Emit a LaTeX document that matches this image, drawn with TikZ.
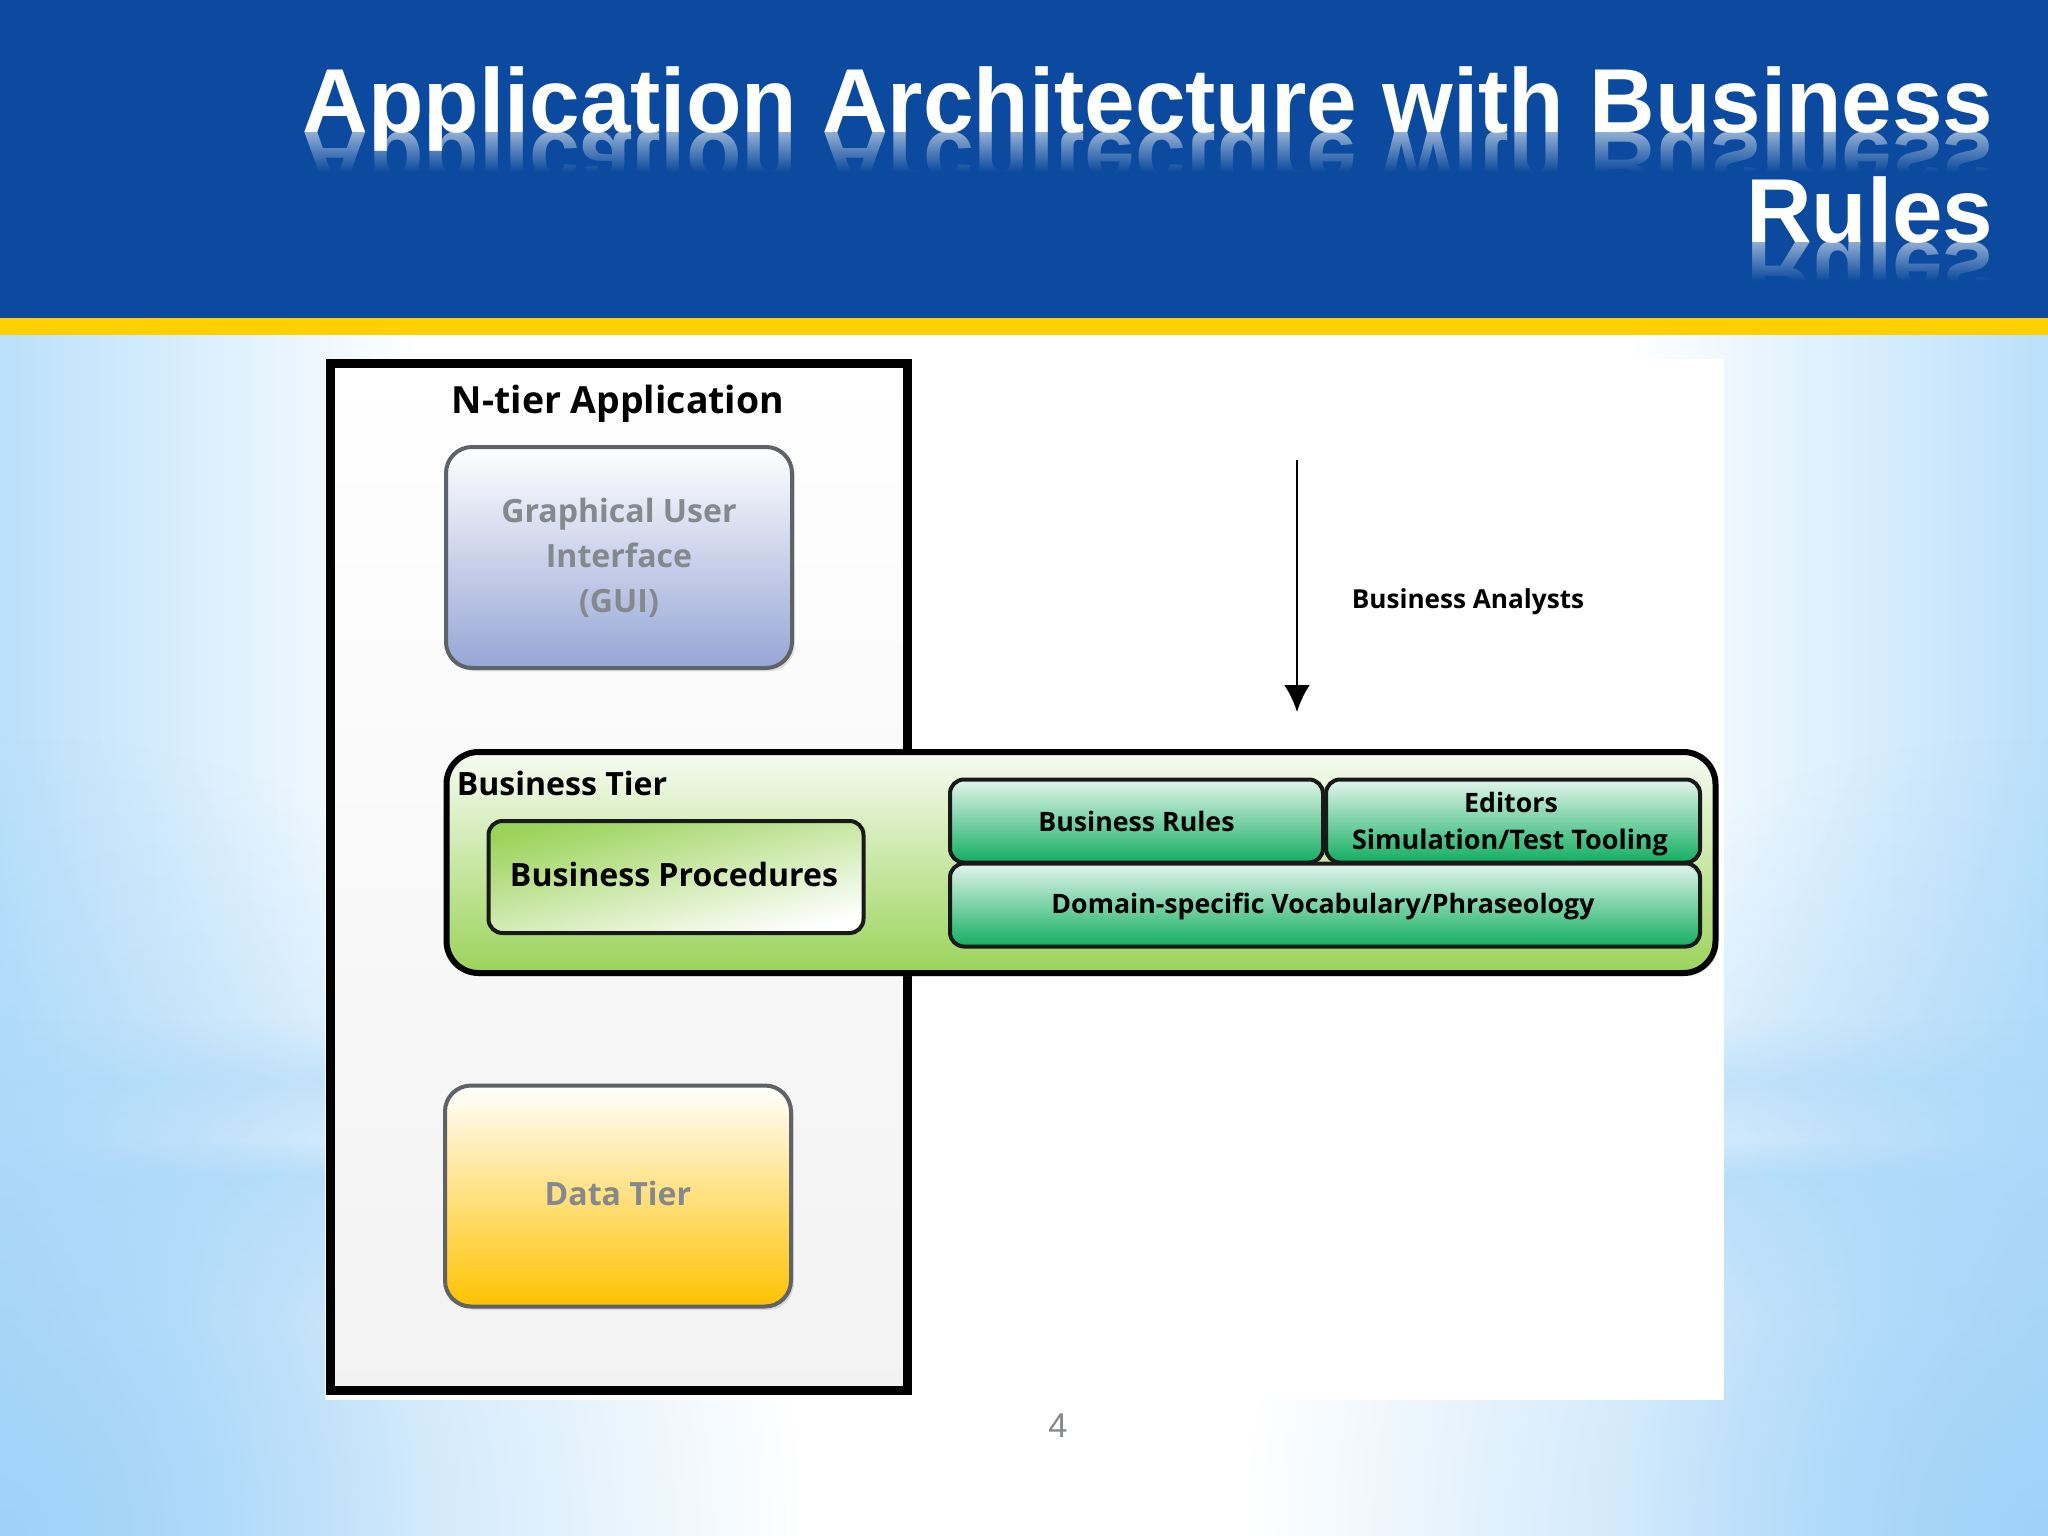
\documentclass[tikz,border=0pt]{standalone}
\usepackage{fontspec}
\setmainfont{Liberation Sans}
\newfontfamily\labelfont{Open Sans}
\usetikzlibrary{arrows.meta,fadings,shadows}
\def\px{0.0125cm}
\definecolor{bannerblue}{HTML}{0B4A9E}
\definecolor{stripeyellow}{HTML}{FFD000}
\definecolor{skyblue}{HTML}{BAE0FB}
\definecolor{deepsky}{HTML}{A0D2F8}
\definecolor{greytext}{HTML}{85888C}
\definecolor{boxedge}{HTML}{5F6266}
\definecolor{guiblue}{HTML}{96A6D6}
\definecolor{datagold}{HTML}{FFC200}
\definecolor{tiergreen}{HTML}{9BD35A}
\definecolor{rulegreen}{HTML}{12AE60}
\tikzfading[name=glow, inner color=transparent!0, outer color=transparent!100]
\tikzset{
  softshadow/.style={drop shadow={shadow xshift=1pt,shadow yshift=-1.2pt,opacity=.22}},
  tierbox/.style={draw=boxedge,line width=4*\px,rounded corners=26*\px,inner sep=0pt,
    minimum width=346*\px,minimum height=221*\px,align=center,text=greytext,
    softshadow,font=\labelfont\bfseries\fontsize{11.4}{16}\selectfont},
  rulebox/.style={draw=black!90,line width=4*\px,rounded corners=14*\px,inner sep=0pt,
    top color=rulegreen!12,bottom color=rulegreen,align=center,text=black,
    font=\labelfont\bfseries\fontsize{9.5}{13.4}\selectfont},
  titletext/.style={anchor=base east,inner sep=0pt,text=white,
    font=\bfseries\fontsize{32.3}{36}\selectfont},
  mirrored/.style={titletext,yscale=-1,transform shape,opacity=.55},
  labeltext/.style={inner sep=0pt,anchor=base,text=black,
    font=\labelfont\bfseries\fontsize{11.4}{13}\selectfont},
  ruletext/.style={labeltext,font=\labelfont\bfseries\fontsize{9.5}{13}\selectfont}
}
\begin{document}
\begin{tikzpicture}[x=\px,y=-\px]
\useasboundingbox (0,0) rectangle (2048,1536);
% slide background
\fill [white] (0,0) rectangle (2048,1536);
\shade [left color=skyblue,right color=white] (0,335) rectangle (420,1536);
\shade [left color=white,right color=skyblue] (1628,335) rectangle (2048,1536);
\fill [skyblue,opacity=.55,path fading=north] (0,1020) rectangle (2048,1082);
\fill [skyblue,opacity=.55,path fading=south] (0,1082) rectangle (2048,1140);
\fill [skyblue,opacity=.7,path fading=north] (0,1140) rectangle (2048,1176);
\fill [skyblue,opacity=.7,path fading=south] (0,1176) rectangle (2048,1320);
\fill [deepsky,path fading=glow] (-800,736) rectangle (800,2336);
\fill [deepsky,path fading=glow] (1248,736) rectangle (2848,2336);
% banner
\fill [bannerblue] (0,0) rectangle (2048,318);
\fill [stripeyellow] (0,318) rectangle (2048,335);
\node [mirrored] (titleonemirror) at (1994,133) {Application Architecture with Business};
\fill [bannerblue,path fading=north] (280,133) rectangle (2048,172);
\fill [bannerblue] (280,172) rectangle (2048,240);
\node [mirrored] (titletwomirror) at (1994,242) {Rules};
\fill [bannerblue,path fading=north] (1700,242) rectangle (2048,281);
\fill [bannerblue] (1700,281) rectangle (2048,317);
\node [titletext] (titleone) at (1994,133) {Application Architecture with Business};
\node [titletext] (titletwo) at (1994,242) {Rules};
% picture sheet
\fill [white] (325,359) rectangle (1724,1400);
\node [draw=black,line width=9*\px,inner sep=0pt,minimum width=577*\px,minimum height=1027*\px,
  top color=white,bottom color=black!5,softshadow] (frame) at (618.5,876.5) {};
\node [labeltext,font=\labelfont\bfseries\fontsize{13.3}{15}\selectfont] (ntier) at (618,413) {N-tier Application};
\node [tierbox,top color=white,bottom color=guiblue] (gui) at (619,557.5)
  {Graphical User\\Interface\\(GUI)};
\node [tierbox,top color=white,bottom color=datagold] (data) at (618,1196) {};
\node [labeltext,text=greytext] (datalabel) at (618,1205) {Data Tier};
% business tier
\node [draw=black,line width=6*\px,rounded corners=32*\px,inner sep=0pt,minimum width=1269*\px,
  minimum height=221*\px,top color=tiergreen!8,bottom color=tiergreen,softshadow] (busi) at (1081,862.5) {};
\node [labeltext] (busilabel) at (562,795) {Business Tier};
\node [draw=black!90,line width=4*\px,rounded corners=14*\px,inner sep=0pt,minimum width=375*\px,
  minimum height=112*\px,shading=axis,top color=tiergreen,middle color=tiergreen!8,bottom color=white,
  shading angle=14] (proc) at (676,877) {};
\node [labeltext] (proclabel) at (674,886) {Business Procedures};
\node [rulebox,minimum width=373*\px,minimum height=83*\px] (rules) at (1136.5,821) {Business Rules};
\node [rulebox,minimum width=374*\px,minimum height=83*\px] (editors) at (1513,821) {};
\node [ruletext] (editorslabel) at (1511,812) {Editors};
\node [ruletext,font=\labelfont\bfseries\fontsize{9.6}{13}\selectfont] (simlabel) at (1510,849) {Simulation/Test Tooling};
\node [rulebox,minimum width=750*\px,minimum height=83*\px] (vocab) at (1325,905) {};
\node [ruletext] (vocablabel) at (1323,913) {Domain-specific Vocabulary/Phraseology};
% analysts arrow
\coordinate (arrowtop) at (1297,460);
\coordinate (arrowtip) at (1297,712);
\draw [-{Latex[length=9.6pt,width=9.2pt]},line width=2.6*\px] (arrowtop) -- (arrowtip);
\node [labeltext,font=\labelfont\bfseries\fontsize{9.3}{12}\selectfont] (analysts) at (1468,608) {Business Analysts};
% page number
\node [inner sep=0pt,anchor=base,text=greytext,font=\fontsize{12.2}{14}\selectfont] (pagenum) at (1058,1437) {4};
\end{tikzpicture}
\end{document}
